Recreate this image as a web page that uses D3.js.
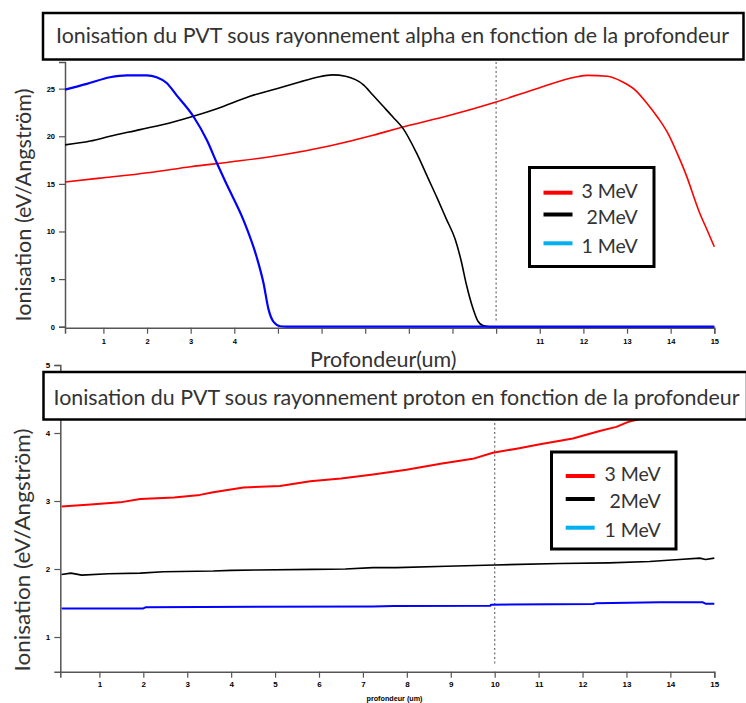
<!DOCTYPE html>
<html><head><meta charset="utf-8">
<script src="https://cdn.jsdelivr.net/npm/d3@7"></script>
<style>body{margin:0;background:#fff}svg{display:block}</style>
</head><body>
<svg id="c" width="746" height="703"></svg>
<script>
// ---------- DATA ----------
const seriesNames = ["3 MeV", " 2MeV", "1 MeV"];
const lineColors = ["#ff0000", "#000000", "#0000ff"];
const legendColors = ["#ff0000", "#000000", "#00b0f0"];

// Alpha (top chart) : [depth um, ionisation eV/Angstrom]
const alpha3 = [[0.12,15.2],[0.92,15.6],[2.07,16.2],[3.0,16.8],[3.9,17.3],[5.05,18.0],[6.2,19.0],[7.18,20.1],[7.8,20.9],[8.94,22.2],[10,23.6],[11,25.1],[11.8,26.2],[12.1,26.4],[12.55,26.3],[12.9,25.7],[13.2,24.8],[13.45,23.5],[13.7,22.0],[13.95,20.2],[14.15,18.2],[14.35,16.0],[14.66,12.0],[14.85,10.0],[15,8.4]];
const alpha2 = [[0.12,19.1],[0.7,19.5],[1.15,20.0],[1.84,20.7],[2.6,21.5],[3.06,22.1],[3.6,22.9],[4.36,24.2],[4.97,25.0],[5.5,25.7],[5.9,26.2],[6.25,26.45],[6.55,26.3],[6.96,25.4],[7.18,24.3],[7.4,23.2],[7.64,22.0],[7.87,20.8],[8.17,18.3],[8.44,15.6],[8.65,13.5],[8.86,11.3],[9.06,9.2],[9.2,6.9],[9.32,4.4],[9.47,1.9],[9.58,0.6],[9.7,0.12],[9.85,0],[15,0]];
const alpha1 = [[0.12,24.9],[0.62,25.5],[1.15,26.2],[1.54,26.4],[1.99,26.4],[2.22,26.2],[2.45,25.6],[2.68,24.3],[3.06,22.1],[3.37,19.6],[3.6,17.2],[3.83,14.9],[4.21,11.2],[4.51,7.35],[4.67,4.56],[4.78,1.9],[4.9,0.5],[5.05,0.05],[5.2,0],[15,0]];

// Proton (bottom chart)
const proton3 = [[0.14,2.92],[0.8,2.95],[1.47,2.98],[1.93,3.03],[2.7,3.05],[3.29,3.09],[3.59,3.13],[4.28,3.2],[5.11,3.22],[5.8,3.29],[6.5,3.33],[7.23,3.39],[7.99,3.46],[8.8,3.55],[9.5,3.62],[9.96,3.71],[10.5,3.77],[11.0,3.83],[11.78,3.92],[12.39,4.03],[12.77,4.09],[13.07,4.17],[13.4,4.22]];
const proton2 = [[0.14,1.92],[0.35,1.94],[0.6,1.91],[1.2,1.93],[1.93,1.94],[2.46,1.96],[3.59,1.97],[4.0,1.98],[4.58,1.985],[5.87,1.995],[6.6,2.0],[7.23,2.02],[7.76,2.02],[8.9,2.04],[10,2.06],[11.48,2.08],[12.6,2.09],[13.53,2.11],[14.2,2.14],[14.67,2.16],[14.8,2.14],[15,2.16]];
const proton1 = [[0.14,1.42],[2.0,1.42],[2.05,1.436],[4.58,1.446],[7.23,1.45],[7.7,1.456],[9.9,1.46],[9.92,1.475],[12.24,1.485],[12.3,1.495],[13.76,1.51],[14.74,1.51],[14.8,1.49],[15,1.49]];

const xTicks = [1,2,3,4,5,6,7,8,9,10,11,12,13,14,15];
const xTickLabelsTop = [1,2,3,4,11,12,13,14,15];
const yTicksTop = [0,5,10,15,20,25];
const yTicksBottom = [1,2,3,4,5];
const titleTop = "Ionisation du PVT sous rayonnement alpha en fonction de la profondeur";
const titleBottom = "Ionisation du PVT sous rayonnement proton en fonction de la profondeur";
const yLabel = "Ionisation (eV/Angström)";
const xLabelTop = "Profondeur(um)";
const xLabelBottom = "profondeur (um)";

// ---------- DRAW ----------
const svg = d3.select("#c");
const axisColor = "#555";
const tickFont = "'Liberation Sans', Arial, sans-serif";
const textFont = "Lato, 'Open Sans', sans-serif";
const textColor = "#333";

function styleAxis(g){
  g.select(".domain").attr("stroke", axisColor).attr("stroke-width", 1.5);
  g.selectAll(".tick line").attr("stroke", axisColor).attr("stroke-width", 1.2);
  g.selectAll(".tick text").attr("fill","#000").attr("font-family", tickFont)
    .attr("font-weight","bold").attr("font-size", 8);
}

// ===== TOP CHART =====
const xT = d3.scaleLinear().domain([0.12,15]).range([65,714.3]);
const yT = d3.scaleLinear().domain([0,27.8]).range([326.7,62]);

svg.append("line").attr("x1",xT(10)).attr("x2",xT(10)).attr("y1",62).attr("y2",322)
  .attr("stroke","#777").attr("stroke-width",1.3).attr("stroke-dasharray","2,2.5");

const gxT = svg.append("g").attr("transform","translate(0,327.7)")
  .call(d3.axisBottom(xT).tickValues(xTicks).tickSize(6).tickPadding(5)
    .tickFormat(d => xTickLabelsTop.includes(d) ? d : ""));
styleAxis(gxT);
gxT.selectAll(".tick text").attr("font-size",7.5);
const gyT = svg.append("g").attr("transform","translate(65,0)")
  .call(d3.axisLeft(yT).tickValues(yTicksTop).tickSize(6).tickPadding(4));
styleAxis(gyT);
gyT.selectAll(".tick text").attr("font-size",7.5);

const lineT = d3.line().x(d=>xT(d[0])).y(d=>yT(d[1])).curve(d3.curveMonotoneX);
[[alpha3,0,1.6],[alpha2,1,1.6],[alpha1,2,2.2]].forEach(([data,i,w])=>{
  svg.append("path").datum(data).attr("d",lineT).attr("fill","none")
    .attr("stroke",lineColors[i]).attr("stroke-width",w).attr("stroke-linejoin","round");
});

svg.append("text").attr("transform","translate(31,205) rotate(-90)")
  .attr("text-anchor","middle").attr("font-family",textFont).attr("font-size",21)
  .attr("fill",textColor).attr("textLength",233).attr("lengthAdjust","spacingAndGlyphs").text(yLabel);
svg.append("text").attr("x",310).attr("y",366.5).attr("font-family",textFont).attr("font-size",20.5)
  .attr("fill",textColor).attr("textLength",146.5).attr("lengthAdjust","spacingAndGlyphs").text(xLabelTop);

// ===== BOTTOM CHART =====
const xB = d3.scaleLinear().domain([0.11,15]).range([60.3,714.3]);
const yB = d3.scaleLinear().domain([0.49,5]).range([671.7,365]);

svg.append("line").attr("x1",xB(10)).attr("x2",xB(10)).attr("y1",423).attr("y2",665)
  .attr("stroke","#777").attr("stroke-width",1.3).attr("stroke-dasharray","2,2.5");

const gxB = svg.append("g").attr("transform","translate(0,671.7)")
  .call(d3.axisBottom(xB).tickValues(xTicks).tickSize(6).tickPadding(4).tickFormat(d3.format("d")));
styleAxis(gxB);
const gyB = svg.append("g").attr("transform","translate(60.3,0)")
  .call(d3.axisLeft(yB).tickValues(yTicksBottom).tickSize(6).tickPadding(4).tickFormat(d3.format("d")));
styleAxis(gyB);

const lineB = d3.line().x(d=>xB(d[0])).y(d=>yB(d[1]));
[[proton3,0,2],[proton2,1,1.6],[proton1,2,2]].forEach(([data,i,w])=>{
  svg.append("path").datum(data).attr("d",lineB).attr("fill","none")
    .attr("stroke",lineColors[i]).attr("stroke-width",w).attr("stroke-linejoin","round");
});

svg.append("text").attr("transform","translate(30,550) rotate(-90)")
  .attr("text-anchor","middle").attr("font-family",textFont).attr("font-size",21.5)
  .attr("fill",textColor).attr("textLength",243).attr("lengthAdjust","spacingAndGlyphs").text(yLabel);
svg.append("text").attr("x",366.5).attr("y",701).attr("font-family",tickFont).attr("font-weight","bold")
  .attr("font-size",7).attr("fill","#000").attr("textLength",56).attr("lengthAdjust","spacingAndGlyphs").text(xLabelBottom);

// ===== TITLE BOXES =====
function titleBox(x0,y0,x1,y1,tx,ty,tlen,txt){
  svg.append("rect").attr("x",x0).attr("y",y0).attr("width",x1-x0).attr("height",y1-y0)
    .attr("fill","#fff").attr("stroke","#000").attr("stroke-width",2.5);
  svg.append("text").attr("x",tx).attr("y",ty).attr("font-family",textFont).attr("font-size",20.5)
    .attr("fill",textColor).attr("textLength",tlen).attr("lengthAdjust","spacingAndGlyphs").text(txt);
}
titleBox(43,13,743.5,59.5,56,43.3,673,titleTop);
titleBox(43.5,372,747,419.5,53.5,405,686,titleBottom);

// ===== LEGENDS =====
function legend(x0,y0,x1,y1,lx0,lx1,lineYs,tx,textYs){
  svg.append("rect").attr("x",x0).attr("y",y0).attr("width",x1-x0).attr("height",y1-y0)
    .attr("fill","#fff").attr("stroke","#000").attr("stroke-width",3);
  seriesNames.forEach((n,i)=>{
    svg.append("line").attr("x1",lx0).attr("x2",lx1).attr("y1",lineYs[i]).attr("y2",lineYs[i])
      .attr("stroke",legendColors[i]).attr("stroke-width",4);
    svg.append("text").attr("x",tx).attr("y",textYs[i]).attr("font-family",textFont)
      .attr("font-size",19.5).attr("fill",textColor).attr("xml:space","preserve").style("white-space","pre").text(n);
  });
}
legend(529.5,167.5,654,266.5,543.5,572.5,[192.7,214.5,243.3],581.5,[197.7,224,252.7]);
legend(551.5,452,676,549,565.7,594.7,[476,499,527.7],604.5,[481,508,536.5]);
</script>
</body></html>
